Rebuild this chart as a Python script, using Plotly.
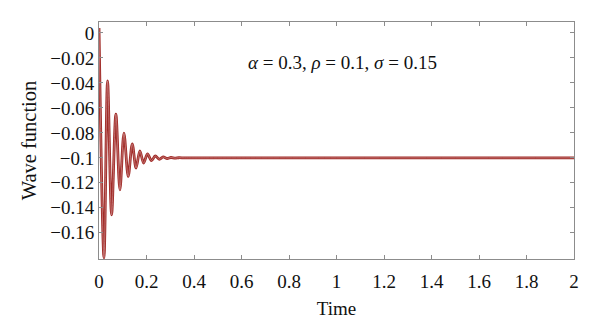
import plotly.graph_objects as go

# Time (s) and wave-function values read at the extrema of the damped oscillation
time = [0.0, 0.021, 0.036, 0.053, 0.071, 0.088, 0.105, 0.123, 0.140, 0.156, 0.172,
        0.188, 0.204, 0.221, 0.237, 0.254, 0.270, 0.287, 0.303, 0.320, 0.336,
        0.36, 0.45, 0.6, 1.0, 1.5, 2.0]
wave = [0.004, -0.180, -0.0384, -0.1456, -0.065, -0.1256, -0.0803, -0.1149, -0.0888,
        -0.1082, -0.0945, -0.1042, -0.0968, -0.1022, -0.0985, -0.1011, -0.0993,
        -0.1005, -0.0997, -0.1002, -0.0999, -0.1, -0.1, -0.1, -0.1, -0.1, -0.1]

x_ticks = [0, 0.2, 0.4, 0.6, 0.8, 1, 1.2, 1.4, 1.6, 1.8, 2]
x_ticktext = ["0", "0.2", "0.4", "0.6", "0.8", "1", "1.2", "1.4", "1.6", "1.8", "2"]
y_ticks = [0, -0.02, -0.04, -0.06, -0.08, -0.1, -0.12, -0.14, -0.16]
y_ticktext = ["0", "\u22120.02", "\u22120.04", "\u22120.06", "\u22120.08", "\u22120.1",
              "\u22120.12", "\u22120.14", "\u22120.16"]

font_family = "Liberation Serif, Times New Roman, DejaVu Serif, serif"

fig = go.Figure()
fig.add_trace(go.Scatter(x=time, y=wave, mode="lines",
                         line=dict(color="#a02a26", width=2.8, shape="spline", smoothing=0.9),
                         showlegend=False, hoverinfo="skip"))
fig.add_trace(go.Scatter(x=time, y=wave, mode="lines",
                         line=dict(color="rgba(205,140,140,0.9)", width=0.8, shape="spline", smoothing=0.9),
                         showlegend=False, hoverinfo="skip"))

axis_common = dict(showgrid=False, zeroline=False, showline=True, linecolor="#8c8c8c",
                   linewidth=1, mirror="ticks", ticks="inside", ticklen=4,
                   tickcolor="#8c8c8c", tickfont=dict(family=font_family, size=19, color="#111"),
                   automargin=False)

# page body has an 8px default offset, so margins are compensated
fig.update_layout(
    width=600, height=332,
    margin=dict(l=91, r=34, t=14, b=81),
    paper_bgcolor="white", plot_bgcolor="white",
    xaxis=dict(range=[0, 2], tickvals=x_ticks, ticktext=x_ticktext, ticklabelstandoff=5,
               title=dict(text="Time", font=dict(family=font_family, size=19, color="#111"), standoff=10),
               **axis_common),
    yaxis=dict(range=[-0.181, 0.0088], tickvals=y_ticks, ticktext=y_ticktext,
               title=dict(text="Wave function", font=dict(family=font_family, size=20.5, color="#111"), standoff=8),
               **axis_common),
    annotations=[dict(x=0.512, y=0.882, xref="paper", yref="paper",
                      text="<i>\u03b1</i> = 0.3, <i>\u03c1</i> = 0.1, <i>\u03c3</i> = 0.15",
                      showarrow=False, font=dict(family=font_family, size=19, color="#111"))],
)

fig.write_html("out.html")
